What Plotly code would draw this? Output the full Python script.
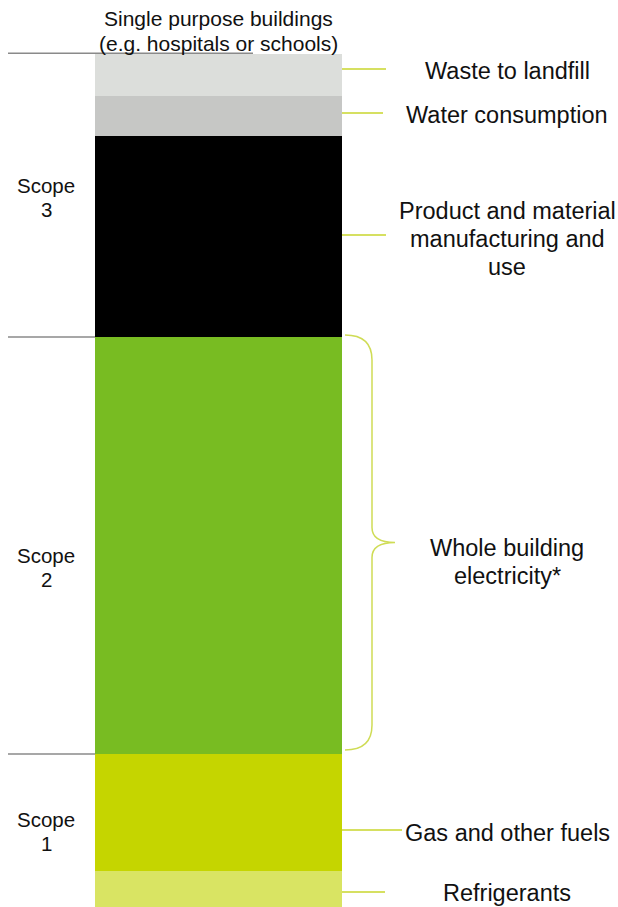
import plotly.graph_objects as go
import numpy as np

# ---- data (segment heights, bottom to top) ----
categories = ["Refrigerants", "Gas and other fuels", "Whole building electricity*",
              "Product and material manufacturing and use", "Water consumption",
              "Waste to landfill"]
values = [36, 117, 417, 201, 40, 42]
colors = ["#d9e463", "#c5d500", "#78bc22", "#000000", "#c6c7c5", "#dcdedb"]
scope_labels = ["Scope<br>1", "Scope<br>2", "Scope<br>3"]
title_lines = ["Single purpose buildings", "(e.g. hospitals or schools)"]

W, H = 618, 907
def py(p):
    return H - p

FONT = "Liberation Sans, Arial, sans-serif"
LINE_C = "#c9d62c"
BAR_X, BAR_W = 218.5, 247

fig = go.Figure()
for name, v, c in zip(categories, values, colors):
    fig.add_trace(go.Bar(x=[BAR_X], y=[v], width=[BAR_W], name=name,
                         marker=dict(color=c, line=dict(width=0)),
                         hoverinfo="name+y", showlegend=False))

cum = np.cumsum([0] + values)  # boundaries in data units
shapes = []
annotations = []

def text(x, y, s, size):
    annotations.append(dict(x=x, y=py(y), xref="x", yref="y", text=s, showarrow=False,
                            xanchor="center", yanchor="middle",
                            font=dict(family=FONT, size=size, color="#111111")))

# title
text(BAR_X, 18, title_lines[0], 21)
text(BAR_X, 43, title_lines[1], 21)

# scope separator lines
top_total = cum[-1]
shapes.append(dict(type="line", xref="x", yref="y", x0=8, x1=253, y0=top_total + 0.8, y1=top_total + 0.8,
                   line=dict(color="#8a8a8a", width=1.5), layer="below"))
for b in [cum[3], cum[2]]:
    shapes.append(dict(type="line", xref="x", yref="y", x0=8, x1=95, y0=b, y1=b,
                       line=dict(color="#8a8a8a", width=1.5)))

# scope labels
text(46, 185, "Scope", 20.5); text(46, 209, "3", 20.5)
text(46, 555, "Scope", 20.5); text(46, 579, "2", 20.5)
text(46, 819, "Scope", 20.5); text(46, 843, "1", 20.5)

# connector lines
for yp, x1 in [(69, 386), (113, 383), (235, 386), (830, 402), (892, 385)]:
    shapes.append(dict(type="line", xref="x", yref="y", x0=342, x1=x1, y0=py(yp), y1=py(yp),
                       line=dict(color=LINE_C, width=1.5)))

# brace for electricity
et, eb = py(cum[3]) , py(cum[2])  # pixel top/bottom
t, b = et - 2, eb - 4
m = (t + b) / 2
pts = (f"M 345,{py(t)} Q 372,{py(t)} 372,{py(t+25)} L 372,{py(m-15)} "
       f"Q 372,{py(m)} 395,{py(m)} Q 372,{py(m)} 372,{py(m+15)} "
       f"L 372,{py(b-25)} Q 372,{py(b)} 345,{py(b)}")
shapes.append(dict(type="path", xref="x", yref="y", path=pts,
                   line=dict(color="#cfdc55", width=1.5)))

# right labels
LX = 507
text(LX, 71, "Waste to landfill", 23.5)
text(LX, 115, "Water consumption", 23.5)
text(LX, 211, "Product and material", 23.5)
text(LX, 239, "manufacturing and", 23.5)
text(LX, 267, "use", 23.5)
text(LX, 548, "Whole building", 23.5)
text(LX, 576, "electricity*", 23.5)
text(LX, 833, "Gas and other fuels", 23.5)
text(LX, 893, "Refrigerants", 23.5)

fig.update_layout(
    width=W, height=H, margin=dict(l=0, r=0, t=0, b=0),
    paper_bgcolor="white", plot_bgcolor="white",
    barmode="stack", bargap=0,
    xaxis=dict(range=[0, W], visible=False, fixedrange=True),
    yaxis=dict(range=[0, H], visible=False, fixedrange=True),
    shapes=shapes, annotations=annotations,
)
fig.write_html("out.html")
